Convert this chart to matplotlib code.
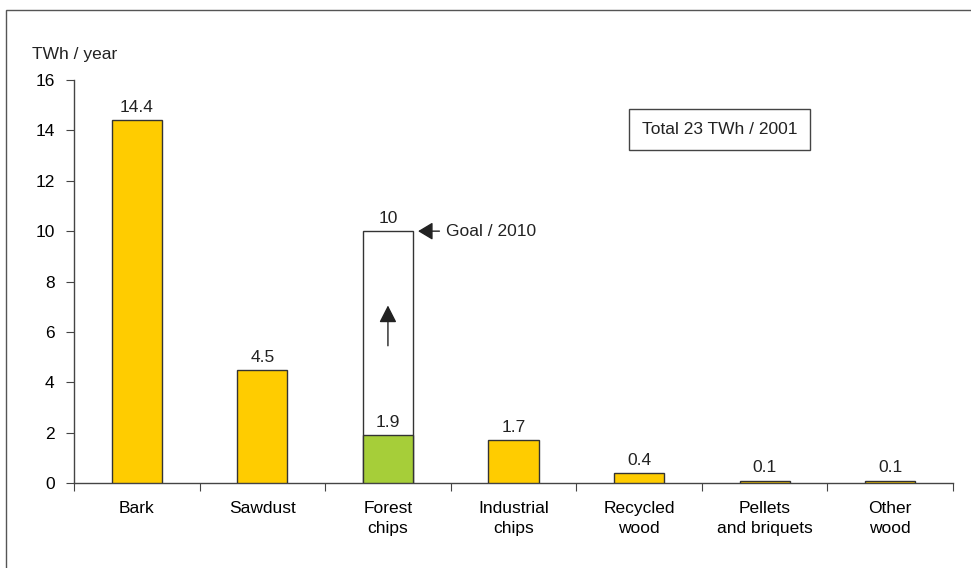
import matplotlib.pyplot as plt
from matplotlib.patches import Rectangle
from matplotlib import font_manager
import numpy as np

# data
categories = ['Bark', 'Sawdust', 'Forest\nchips', 'Industrial\nchips',
              'Recycled\nwood', 'Pellets\nand briquets', 'Other\nwood']
values = [14.4, 4.5, 1.9, 1.7, 0.4, 0.1, 0.1]
goal_index = 2
goal_value = 10
yticks = [0, 2, 4, 6, 8, 10, 12, 14, 16]

yellow = '#FFCC00'
green = '#A6CE39'

names = {f.name for f in font_manager.fontManager.ttflist}
family = 'Liberation Sans Narrow' if 'Liberation Sans Narrow' in names else 'Liberation Sans'
plt.rcParams['font.family'] = [family, 'DejaVu Sans']
plt.rcParams['font.size'] = 12.5
plt.rcParams['text.color'] = '#222222'

fig = plt.figure(figsize=(9.71, 5.68), dpi=100)
ax = fig.add_axes([0.0762, 0.1496, 0.9053, 0.7095])

# thin frame around the figure
fig.patches.append(Rectangle((6 / 971, -0.1), 1.2, 1 - 10 / 568 + 0.1,
                             transform=fig.transFigure, fill=False,
                             edgecolor='#555555', linewidth=1.0))

x = np.arange(len(categories))
colors = [green if i == goal_index else yellow for i in range(len(values))]

# goal bar (white, outlined) behind the actual value
ax.bar(goal_index, goal_value, width=0.4, color='white', edgecolor='#333333',
       linewidth=1.0, zorder=2)
ax.bar(x, values, width=0.4, color=colors, edgecolor='#333333',
       linewidth=1.0, zorder=3)

for xi, v in zip(x, values):
    ax.text(xi, v + 0.2, '{:g}'.format(v), ha='center', va='bottom', fontsize=12.5)
ax.text(goal_index, goal_value + 0.2, '{:g}'.format(goal_value),
        ha='center', va='bottom', fontsize=12.5)

# upward arrow inside the goal bar
ax.annotate('', xy=(goal_index, 7.05), xytext=(goal_index, 5.45),
            arrowprops=dict(arrowstyle='-|>,head_length=0.55,head_width=0.28',
                            color='#222222', lw=1.0,
                            mutation_scale=19, shrinkA=0, shrinkB=0))
# goal pointer
ax.annotate('', xy=(goal_index + 0.24, goal_value),
            xytext=(goal_index + 0.41, goal_value),
            arrowprops=dict(arrowstyle='-|>,head_length=0.5,head_width=0.3',
                            color='#222222', lw=1.0,
                            mutation_scale=18, shrinkA=0, shrinkB=0))
ax.text(goal_index + 0.46, goal_value, 'Goal / 2010', ha='left', va='center',
        fontsize=12.5)

ax.text(4.64, 14.03, 'Total 23 TWh / 2001', ha='center', va='center',
        fontsize=12.5,
        bbox=dict(boxstyle='square,pad=0.75', facecolor='white',
                  edgecolor='#444444', linewidth=1.0))

ax.set_xlim(-0.5, len(categories) - 0.5)
ax.set_ylim(0, 16)
ax.set_yticks(yticks)
ax.set_xticks(np.arange(len(categories) + 1) - 0.5)
ax.set_xticklabels([])
ax.set_xticks(x, minor=True)
ax.set_xticklabels(categories, minor=True, linespacing=1.45)
ax.tick_params(axis='x', which='minor', length=0, pad=13, labelsize=12.5)
ax.tick_params(axis='x', which='major', direction='out', length=6,
               color='#444444')
ax.tick_params(axis='y', direction='out', length=6, pad=8,
               color='#444444', labelsize=12.5)

for s in ['top', 'right']:
    ax.spines[s].set_visible(False)
for s in ['left', 'bottom']:
    ax.spines[s].set_color('#444444')
    ax.spines[s].set_linewidth(1.0)

fig.text(32 / 971, 1 - 55 / 568, 'TWh / year', ha='left', va='center',
         fontsize=12.5)

fig.savefig('out.png', dpi=100)
